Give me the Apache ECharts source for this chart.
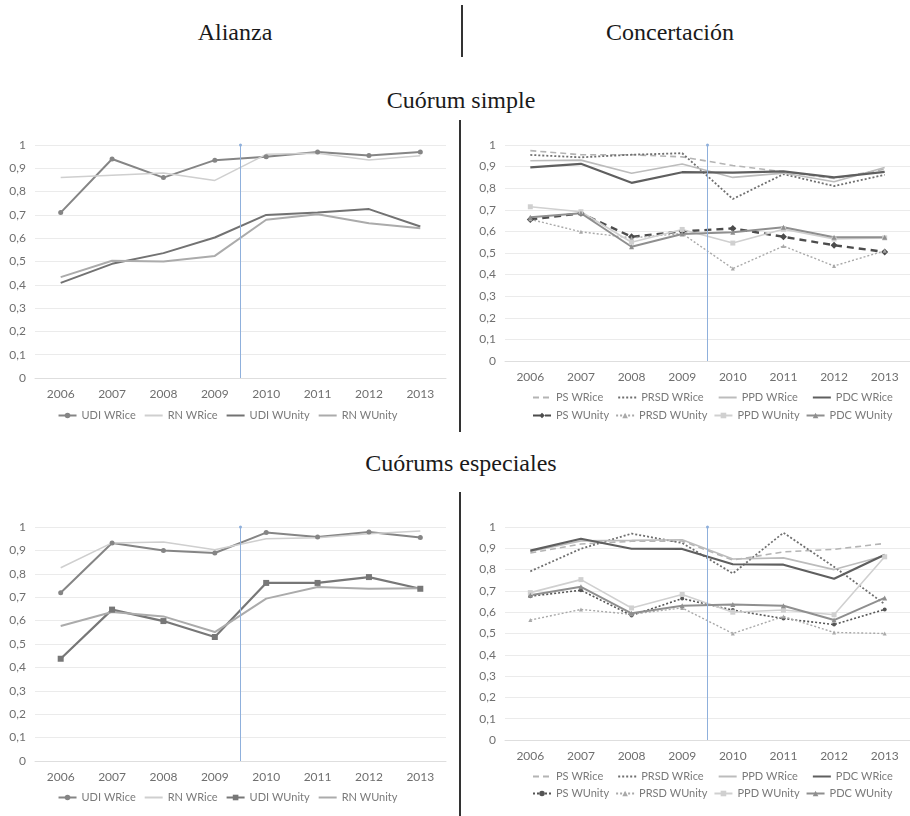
<!DOCTYPE html>
<html>
<head>
<meta charset="utf-8">
<script src="https://cdn.jsdelivr.net/npm/echarts@6/dist/echarts.min.js"></script>
<style>
  body { margin: 0; background: #fff; }
  #page { position: relative; width: 910px; height: 816px; overflow: hidden; }
  .ttl { position: absolute; font-family: "Liberation Serif", serif; font-size: 24px; color: #1a1a1a;
         transform: translate(-50%, -50%); white-space: nowrap; }
  .rule { position: absolute; width: 1.5px; background: #333; z-index: 5; }
  .panel { position: absolute; width: 455px; }
</style>
</head>
<body>
<div id="page">
  <div class="ttl" style="left:235px;top:32px">Alianza</div>
  <div class="ttl" style="left:670px;top:32px">Concertación</div>
  <div class="ttl" style="left:461px;top:100px">Cuórum simple</div>
  <div class="ttl" style="left:461px;top:463px">Cuórums especiales</div>
  <div id="tl" class="panel" style="left:0;top:125px;height:305px"></div>
  <div id="tr" class="panel" style="left:455px;top:125px;height:305px"></div>
  <div id="bl" class="panel" style="left:0;top:490px;height:326px"></div>
  <div id="br" class="panel" style="left:455px;top:490px;height:326px"></div>
  <div class="rule" style="left:461px;top:5px;height:52px"></div>
  <div class="rule" style="left:459px;top:120px;height:312px"></div>
  <div class="rule" style="left:459px;top:492px;height:324px"></div>
</div>
<script>
var years = ['2006', '2007', '2008', '2009', '2010', '2011', '2012', '2013'];
var splitAt = 4; // boundary between 2009 and 2010 (in category bands)

// Alianza, cuórum simple
var simpleUdiRice = [0.71, 0.94, 0.86, 0.935, 0.95, 0.97, 0.955, 0.97];
var simpleRnRice = [0.86, 0.87, 0.88, 0.848, 0.96, 0.965, 0.936, 0.954];
var simpleUdiUnity = [0.408, 0.49, 0.536, 0.603, 0.70, 0.71, 0.725, 0.65];
var simpleRnUnity = [0.433, 0.503, 0.50, 0.524, 0.679, 0.703, 0.664, 0.643];

// Concertación, cuórum simple
var simplePsRice = [0.974, 0.955, 0.955, 0.945, 0.905, 0.876, 0.845, 0.888];
var simplePrsdRice = [0.954, 0.943, 0.955, 0.962, 0.75, 0.865, 0.81, 0.862];
var simplePpdRice = [0.927, 0.93, 0.869, 0.912, 0.85, 0.87, 0.83, 0.896];
var simplePdcRice = [0.896, 0.913, 0.825, 0.874, 0.872, 0.878, 0.85, 0.876];
var simplePsUnity = [0.655, 0.684, 0.575, 0.60, 0.614, 0.575, 0.536, 0.505];
var simplePrsdUnity = [0.656, 0.598, 0.57, 0.59, 0.428, 0.532, 0.44, 0.51];
var simplePpdUnity = [0.714, 0.691, 0.55, 0.609, 0.546, 0.61, 0.565, 0.57];
var simplePdcUnity = [0.665, 0.684, 0.529, 0.588, 0.596, 0.619, 0.573, 0.573];

// Alianza, cuórums especiales
var specUdiRice = [0.719, 0.932, 0.90, 0.889, 0.976, 0.957, 0.979, 0.955];
var specRnRice = [0.826, 0.932, 0.936, 0.903, 0.95, 0.954, 0.971, 0.983];
var specUdiUnity = [0.437, 0.647, 0.598, 0.53, 0.761, 0.761, 0.786, 0.736];
var specRnUnity = [0.577, 0.637, 0.618, 0.551, 0.694, 0.744, 0.736, 0.738];

// Concertación, cuórums especiales
var specPsRice = [0.878, 0.92, 0.933, 0.934, 0.845, 0.883, 0.895, 0.923];
var specPrsdRice = [0.792, 0.898, 0.969, 0.925, 0.782, 0.973, 0.813, 0.638];
var specPpdRice = [0.885, 0.935, 0.937, 0.94, 0.85, 0.855, 0.80, 0.865];
var specPdcRice = [0.889, 0.945, 0.898, 0.897, 0.825, 0.823, 0.757, 0.87];
var specPsUnity = [0.675, 0.703, 0.585, 0.664, 0.61, 0.57, 0.542, 0.613];
var specPrsdUnity = [0.563, 0.613, 0.59, 0.62, 0.50, 0.58, 0.505, 0.50];
var specPpdUnity = [0.692, 0.753, 0.62, 0.683, 0.60, 0.61, 0.588, 0.86];
var specPdcUnity = [0.68, 0.719, 0.595, 0.63, 0.636, 0.63, 0.563, 0.667];

var labelFont = 'Lato, "Noto Sans", sans-serif';
var labelColor = '#6f6f6f';

function line(name, data, color, width, type, symbol, size) {
    return {
        name: name,
        type: 'line',
        data: data,
        symbol: symbol || 'none',
        symbolSize: size || 5,
        showSymbol: !!symbol,
        lineStyle: { color: color, width: width, type: type || 'solid' },
        itemStyle: { color: color },
        z: 3
    };
}

function panel(id, grid, series, legends) {
    var chart = echarts.init(document.getElementById(id));
    // legend entries: hide the marker for plain lines
    var plain = {};
    series.forEach(function (s) { if (s.symbol === 'none') plain[s.name] = true; });
    series.push({
        type: 'line',
        xAxisIndex: 1,
        data: [],
        markLine: {
            silent: true,
            symbol: ['none', 'circle'],
            symbolSize: 3,
            label: { show: false },
            lineStyle: { color: '#8fb0dc', width: 1, type: 'solid' },
            data: [{ xAxis: splitAt }]
        }
    });
    chart.setOption({
        animation: false,
        backgroundColor: '#fff',
        grid: grid,
        xAxis: [{
            type: 'category',
            data: years,
            axisLine: { lineStyle: { color: '#dedede' } },
            axisTick: { show: false },
            axisLabel: { color: labelColor, fontFamily: labelFont, fontSize: 12, margin: 10 }
        }, {
            type: 'value', min: 0, max: 8, show: false
        }],
        yAxis: {
            type: 'value',
            min: 0,
            max: 1,
            interval: 0.1,
            axisLine: { show: false },
            axisTick: { show: false },
            splitLine: { lineStyle: { color: '#ebebeb' } },
            axisLabel: {
                color: labelColor, fontFamily: labelFont, fontSize: 12, margin: 9,
                formatter: function (v) { return (Math.round(v * 10) / 10).toString().replace('.', ','); }
            }
        },
        legend: legends.map(function (lg) {
            return {
                data: lg.data.map(function (n) {
                    return plain[n] ? { name: n, itemStyle: { opacity: 0 } } : { name: n };
                }),
                left: lg.left,
                top: lg.top,
                width: 400,
                itemWidth: 18,
                itemHeight: 7,
                itemGap: lg.gap,
                textStyle: { color: '#7a7a7a', fontFamily: labelFont, fontSize: 11 }
            };
        }),
        series: series
    });
}

panel('tl', { left: 35, top: 20, width: 411, height: 233 }, [
    line('UDI WRice', simpleUdiRice, '#858585', 2, 'solid', 'circle', 5),
    line('RN WRice', simpleRnRice, '#cfcfcf', 1.5),
    line('UDI WUnity', simpleUdiUnity, '#727272', 2),
    line('RN WUnity', simpleRnUnity, '#ababab', 2)
], [
    { data: ['UDI WRice', 'RN WRice', 'UDI WUnity', 'RN WUnity'], left: 'center', top: 280, gap: 8 }
]);

panel('tr', { left: 50, top: 20, width: 409, height: 216 }, [
    line('PS WRice', simplePsRice, '#b4b4b4', 1.6, [6, 4]),
    line('PRSD WRice', simplePrsdRice, '#6f6f6f', 1.8, [2, 2]),
    line('PPD WRice', simplePpdRice, '#bcbcbc', 1.6),
    line('PDC WRice', simplePdcRice, '#5f5f5f', 2.2),
    line('PS WUnity', simplePsUnity, '#4c4c4c', 2.4, [7, 5], 'diamond', 7),
    line('PRSD WUnity', simplePrsdUnity, '#a9a9a9', 1.4, [2, 2], 'triangle', 4),
    line('PPD WUnity', simplePpdUnity, '#d0d0d0', 1.6, 'solid', 'rect', 5),
    line('PDC WUnity', simplePdcUnity, '#8f8f8f', 2, 'solid', 'triangle', 5)
], [
    { data: ['PS WRice', 'PRSD WRice', 'PPD WRice', 'PDC WRice'], left: 72, top: 262, gap: 14 },
    { data: ['PS WUnity', 'PRSD WUnity', 'PPD WUnity', 'PDC WUnity'], left: 72, top: 280, gap: 6 }
]);

panel('bl', { left: 35, top: 37, width: 411, height: 234 }, [
    line('UDI WRice', specUdiRice, '#858585', 2, 'solid', 'circle', 5),
    line('RN WRice', specRnRice, '#cfcfcf', 1.5),
    line('UDI WUnity', specUdiUnity, '#777777', 2.2, 'solid', 'rect', 6),
    line('RN WUnity', specRnUnity, '#ababab', 2)
], [
    { data: ['UDI WRice', 'RN WRice', 'UDI WUnity', 'RN WUnity'], left: 'center', top: 297, gap: 8 }
]);

panel('br', { left: 50, top: 37, width: 405, height: 213 }, [
    line('PS WRice', specPsRice, '#b4b4b4', 1.6, [6, 4]),
    line('PRSD WRice', specPrsdRice, '#6f6f6f', 1.8, [2, 2]),
    line('PPD WRice', specPpdRice, '#bcbcbc', 1.6),
    line('PDC WRice', specPdcRice, '#5f5f5f', 2.2),
    line('PS WUnity', specPsUnity, '#555555', 1.6, [2, 2], 'circle', 4),
    line('PRSD WUnity', specPrsdUnity, '#a9a9a9', 1.4, [2, 2], 'triangle', 4),
    line('PPD WUnity', specPpdUnity, '#d0d0d0', 1.6, 'solid', 'rect', 5),
    line('PDC WUnity', specPdcUnity, '#8f8f8f', 2, 'solid', 'triangle', 5)
], [
    { data: ['PS WRice', 'PRSD WRice', 'PPD WRice', 'PDC WRice'], left: 72, top: 276, gap: 14 },
    { data: ['PS WUnity', 'PRSD WUnity', 'PPD WUnity', 'PDC WUnity'], left: 72, top: 293, gap: 6 }
]);
</script>
</body>
</html>
